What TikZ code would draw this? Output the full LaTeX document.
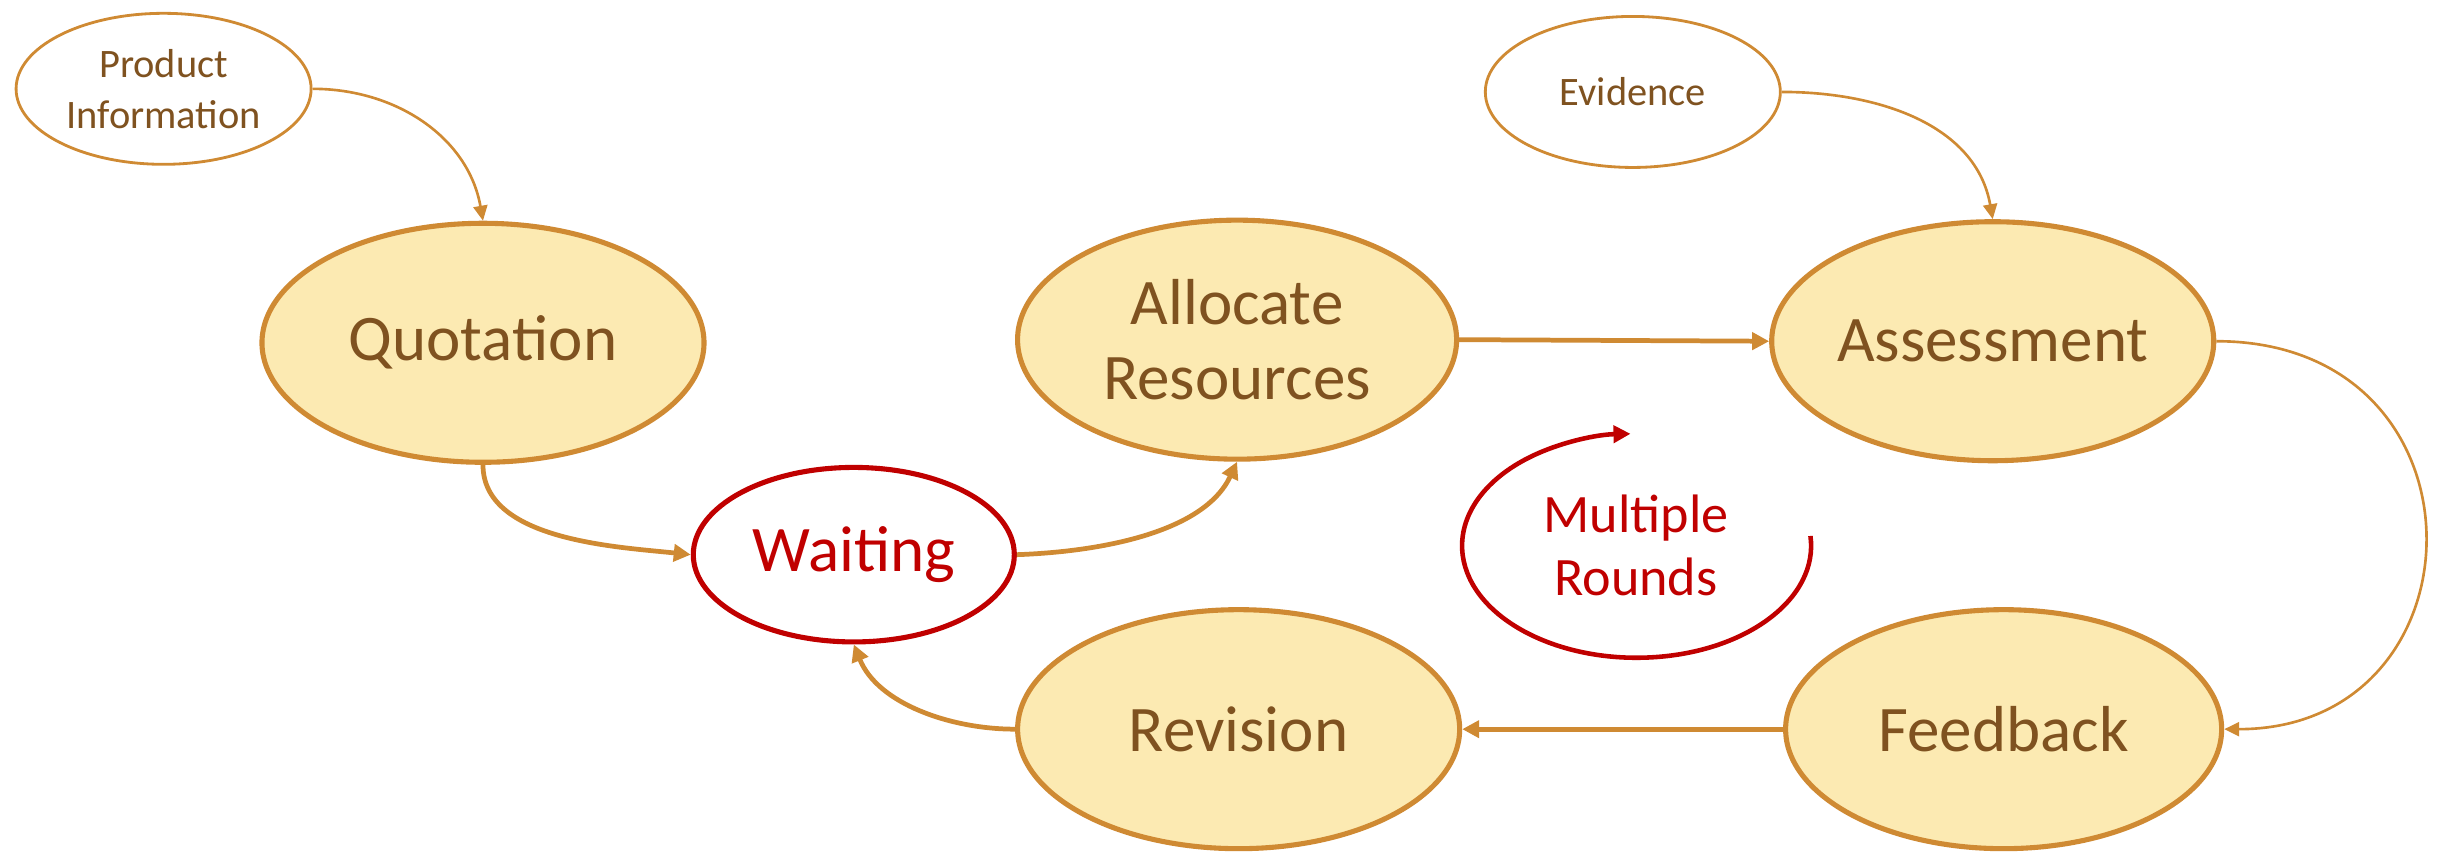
\documentclass[tikz,border=0pt]{standalone}
\usepackage{fontspec}
\setmainfont{Carlito}
\usetikzlibrary{shapes.geometric,arrows.meta}
\definecolor{orng}{HTML}{CF8A33}
\definecolor{lfill}{HTML}{FCEAB2}
\definecolor{brwn}{HTML}{7F5220}
\definecolor{dred}{HTML}{C00000}
\tikzset{
  big/.style={ellipse, draw=orng, fill=lfill, line width=1.45pt, inner sep=0pt,
    text=brwn, align=center, font=\fontsize{18.5}{21.5}\selectfont,
    minimum width=4.42cm, minimum height=2.39cm},
  small/.style={ellipse, draw=orng, fill=white, line width=0.8pt, inner sep=0pt,
    text=brwn, align=center, font=\fontsize{11.5}{14.5}\selectfont,
    minimum width=2.95cm, minimum height=1.51cm},
  wait/.style={ellipse, draw=dred, fill=white, line width=1.45pt, inner sep=0pt,
    text=dred, align=center, font=\fontsize{18.5}{21.5}\selectfont,
    minimum width=3.21cm, minimum height=1.745cm},
  thick conn/.style={draw=orng, line width=1.35pt, -{Triangle[length=0.17cm,width=0.17cm]}},
  thin conn/.style={draw=orng, line width=0.75pt, -{Triangle[length=0.15cm,width=0.14cm]}},
}
\begin{document}
\begin{tikzpicture}[x=0.01558cm, y=-0.01558cm]
\useasboundingbox (0,0) rectangle (1568,548.1);
\node[small] (pi) at (105,57) {Product\\Information};
\node[small] (ev) at (1048,59) {Evidence};
\node[big] (quo) at (310,220) {Quotation};
\node[big, minimum width=4.39cm] (all) at (794,218) {Allocate\\Resources};
\node[big] (ass) at (1279,219) {Assessment};
\node[wait] (wai) at (548,356) {Waiting};
\node[big] (rev) at (795,468) {Revision};
\node[big, minimum width=4.36cm] (fee) at (1286,468) {Feedback};
\node[text=dred, align=center, font=\fontsize{15.4}{17.9}\selectfont] (mr) at (1050,350) {Multiple\\Rounds};
\coordinate (ls) at (1162,344);

\draw[thin conn] (pi.east) to[out=0, in=100] (quo.north);
\draw[thin conn] (ev.east) to[out=0, in=100] (ass.north);
\draw[thick conn] (quo.south) to[out=-90, in=174, looseness=0.85] (wai.west);
\draw[thick conn] (wai.east) to[out=2, in=-115, looseness=0.85] (all.south);
\draw[thick conn] (all.east) -- (ass.west);
\draw[thin conn] (ass.east) .. controls +(180,0) and +(170,0) .. (fee.east);
\draw[thick conn] (fee.west) -- (rev.east);
\draw[thick conn] (rev.west) to[out=180, in=-68, looseness=0.9] (wai.south);
\draw[draw=dred, line width=1.3pt, -{Triangle[length=0.17cm,width=0.17cm]}]
  (ls) arc[start angle=5, end angle=-268, x radius=1.745cm, y radius=1.12cm];
\end{tikzpicture}
\end{document}
